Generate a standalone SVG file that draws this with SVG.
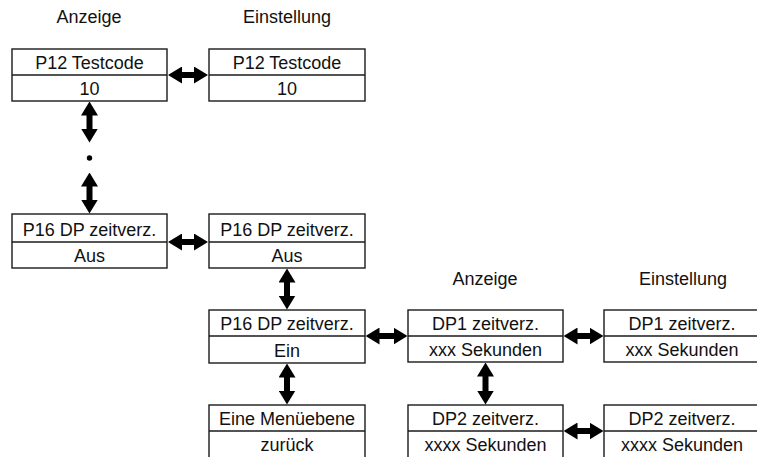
<svg xmlns="http://www.w3.org/2000/svg" width="757" height="457" viewBox="0 0 757 457">
  <defs>
    <style>
      .box { fill: #ffffff; stroke: #1a1a1a; stroke-width: 1.4; }
      .div { stroke: #1a1a1a; stroke-width: 1.4; }
      .t { font-family: "Liberation Sans", Arial, sans-serif; font-size: 18px; fill: #111111; text-anchor: middle; }
      .arr { stroke: #000000; stroke-width: 6; fill: none; marker-start: url(#head); marker-end: url(#head); }
    </style>
    <marker id="head" markerUnits="userSpaceOnUse" viewBox="0 0 14 17" markerWidth="14" markerHeight="17" refX="0.5" refY="8.5" orient="auto-start-reverse">
      <path d="M0,0 L14,8.5 L0,17 Z" fill="#000000"/>
    </marker>
  </defs>

  <rect width="757" height="457" fill="#ffffff"/>

  <g id="labels">
    <text class="t" x="89" y="23">Anzeige</text>
    <text class="t" x="287" y="23">Einstellung</text>
    <text class="t" x="485" y="285">Anzeige</text>
    <text class="t" x="683" y="285">Einstellung</text>
  </g>

  <g id="connectors">
    <line class="arr" x1="181.5" y1="75" x2="194.5" y2="75"/>
    <line class="arr" x1="89.5" y1="115" x2="89.5" y2="129"/>
    <circle cx="89.5" cy="158" r="2.7" fill="#000000"/>
    <line class="arr" x1="89.5" y1="186" x2="89.5" y2="200"/>
    <line class="arr" x1="181.5" y1="242" x2="194.5" y2="242"/>
    <line class="arr" x1="287" y1="282" x2="287" y2="296"/>
    <line class="arr" x1="379" y1="336" x2="394" y2="336"/>
    <line class="arr" x1="287" y1="377" x2="287" y2="391"/>
    <line class="arr" x1="577" y1="336" x2="590" y2="336"/>
    <line class="arr" x1="485.5" y1="376" x2="485.5" y2="391"/>
    <line class="arr" x1="577" y1="431" x2="590" y2="431"/>
  </g>

  <g id="p12-anzeige">
    <rect class="box" x="12" y="49" width="155" height="52"/>
    <line class="div" x1="12" y1="75" x2="167" y2="75"/>
    <text class="t" x="89.5" y="69">P12 Testcode</text>
    <text class="t" x="89.5" y="95">10</text>
  </g>

  <g id="p12-einstellung">
    <rect class="box" x="209" y="49" width="156" height="52"/>
    <line class="div" x1="209" y1="75" x2="365" y2="75"/>
    <text class="t" x="287" y="69">P12 Testcode</text>
    <text class="t" x="287" y="95">10</text>
  </g>

  <g id="p16-anzeige">
    <rect class="box" x="12" y="214" width="155" height="54"/>
    <line class="div" x1="12" y1="242" x2="167" y2="242"/>
    <text class="t" x="89.5" y="236">P16 DP zeitverz.</text>
    <text class="t" x="89.5" y="262">Aus</text>
  </g>

  <g id="p16-aus">
    <rect class="box" x="209" y="214" width="156" height="54"/>
    <line class="div" x1="209" y1="242" x2="365" y2="242"/>
    <text class="t" x="287" y="236">P16 DP zeitverz.</text>
    <text class="t" x="287" y="262">Aus</text>
  </g>

  <g id="p16-ein">
    <rect class="box" x="209" y="310" width="156" height="53"/>
    <line class="div" x1="209" y1="336" x2="365" y2="336"/>
    <text class="t" x="287" y="330">P16 DP zeitverz.</text>
    <text class="t" x="287" y="357">Ein</text>
  </g>

  <g id="menue-zurueck">
    <rect class="box" x="209" y="405" width="156" height="60"/>
    <line class="div" x1="209" y1="431" x2="365" y2="431"/>
    <text class="t" x="287" y="425">Eine Menüebene</text>
    <text class="t" x="287" y="451">zurück</text>
  </g>

  <g id="dp1-anzeige">
    <rect class="box" x="408" y="310" width="155" height="52"/>
    <line class="div" x1="408" y1="336" x2="563" y2="336"/>
    <text class="t" x="485.5" y="330">DP1 zeitverz.</text>
    <text class="t" x="485.5" y="356">xxx Sekunden</text>
  </g>

  <g id="dp1-einstellung">
    <rect class="box" x="604" y="310" width="160" height="52"/>
    <line class="div" x1="604" y1="336" x2="764" y2="336"/>
    <text class="t" x="682" y="330">DP1 zeitverz.</text>
    <text class="t" x="682" y="356">xxx Sekunden</text>
  </g>

  <g id="dp2-anzeige">
    <rect class="box" x="408" y="405" width="155" height="60"/>
    <line class="div" x1="408" y1="431" x2="563" y2="431"/>
    <text class="t" x="485.5" y="425">DP2 zeitverz.</text>
    <text class="t" x="485.5" y="451">xxxx Sekunden</text>
  </g>

  <g id="dp2-einstellung">
    <rect class="box" x="604" y="405" width="160" height="60"/>
    <line class="div" x1="604" y1="431" x2="764" y2="431"/>
    <text class="t" x="682" y="425">DP2 zeitverz.</text>
    <text class="t" x="682" y="451">xxxx Sekunden</text>
  </g>
</svg>
